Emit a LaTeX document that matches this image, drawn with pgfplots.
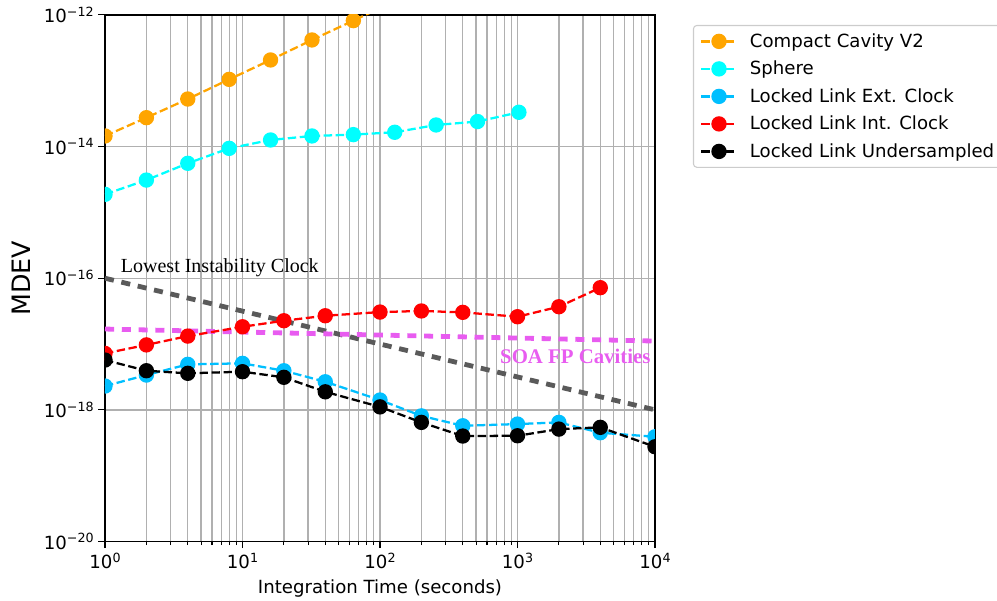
\documentclass[border=0pt]{standalone}
\usepackage{fontspec}
\setmainfont{DejaVu Sans}
\newfontfamily\annfont{Liberation Serif}
\usepackage{pgfplots}
\pgfplotsset{compat=1.18}

\definecolor{cOrange}{RGB}{255,165,0}
\definecolor{cCyan}{RGB}{0,255,255}
\definecolor{cSky}{RGB}{0,191,255}
\definecolor{cRed}{RGB}{255,0,0}
\definecolor{cGridGray}{RGB}{176,176,176}
\definecolor{cClock}{RGB}{90,90,90}
\definecolor{cSOA}{RGB}{232,92,240}

% power-of-ten tick labels set in the text font
\newcommand{\tenpow}[1]{10\raisebox{4.8pt}{\fontsize{9.5}{10}\selectfont #1}}

\pgfplotsset{
  series/.style={line width=1.7pt, dash pattern=on 6.3pt off 2.7pt,
    color=#1, mark=*, mark size=4.9pt,
    mark options={solid, fill=#1, draw=#1}},
  reference/.style={line width=3.6pt, dash pattern=on 6.8pt off 5.8pt, color=#1, no markers},
}

\begin{document}
\begin{tikzpicture}
\begin{axis}[
  at={(0,0)}, anchor=south west,
  scale only axis, width=412.5pt, height=394.9pt,
  xmode=log, ymode=log,
  xmin=1, xmax=1e4, ymin=1e-20, ymax=1e-12,
  clip marker paths=true,
  xtick={1,10,100,1000,10000},
  xticklabels={\tenpow{0},\tenpow{1},\tenpow{2},\tenpow{3},\tenpow{4}},
  minor xtick={2,3,4,5,6,7,8,9,20,30,40,50,60,70,80,90,200,300,400,500,600,700,800,900,2000,3000,4000,5000,6000,7000,8000,9000},
  ytick={1e-20,1e-18,1e-16,1e-14,1e-12},
  yticklabels={\tenpow{−20},\tenpow{−18},\tenpow{−16},\tenpow{−14},\tenpow{−12}},
  yminorticks=false,
  xmajorgrids, xminorgrids, ymajorgrids,
  grid style={color=cGridGray, line width=1pt},
  minor grid style={color=cGridGray, line width=1pt},
  tick pos=left, tick align=outside,
  major tick length=5pt, minor tick length=2.8pt,
  tick style={black, line width=0.8pt},
  axis line style={black, line width=0.9pt},
  ticklabel style={font=\fontsize{13.6}{16}\selectfont},
  xlabel={Integration Time (seconds)},
  xlabel style={font=\fontsize{13.6}{16}\selectfont, at={(axis description cs:0.5,0)}, anchor=center, yshift=-35.6pt},
  ylabel={MDEV},
  ylabel style={font=\fontsize{19}{22}\selectfont, at={(axis description cs:-0.1515,0.5)}, anchor=center},
  legend cell align=left,
  legend image code/.code={
    \draw[mark repeat=2, mark phase=2] plot coordinates {(0pt,0pt) (13.3pt,0pt) (26.6pt,0pt)};
  },
  legend style={at={(1.069,0.981)}, anchor=north west,
    draw={rgb,255:red,204;green,204;blue,204}, line width=0.8pt, rounded corners=2.5pt,
    font=\fontsize{13.6}{16}\selectfont, row sep=4.8pt,
    inner xsep=5pt, inner ysep=4pt,
    /tikz/every odd column/.append style={column sep=7pt}},
]

% reference levels
\addplot[reference=cClock, forget plot] coordinates {(1,1e-16) (10000,1e-18)};
\addplot[reference=cSOA, forget plot] coordinates {(1,1.69e-17) (10000,1.11e-17)};

\addplot[series=cOrange] coordinates {
  (1,1.45e-14) (2,2.75e-14) (4,5.28e-14) (8,1.05e-13) (16,2.07e-13)
  (32,4.17e-13) (64,8.2e-13) (128,1.62e-12)};
\addlegendentry{Compact Cavity V2}

\addplot[series=cCyan] coordinates {
  (1,1.88e-15) (2,3.1e-15) (4,5.57e-15) (8,9.4e-15) (16,1.26e-14)
  (32,1.45e-14) (64,1.52e-14) (128,1.65e-14) (256,2.13e-14) (512,2.4e-14)
  (1024,3.32e-14)};
\addlegendentry{Sphere}

\addplot[series=cSky] coordinates {
  (1,2.3e-18) (2,3.38e-18) (4,4.91e-18) (10,5.09e-18) (20,3.93e-18)
  (40,2.67e-18) (100,1.41e-18) (200,8.1e-19) (400,5.73e-19) (1000,6.08e-19)
  (2000,6.45e-19) (4000,4.49e-19) (10000,3.9e-19)};
\addlegendentry{Locked Link Ext. Clock}

\addplot[series=cRed] coordinates {
  (1,7.2e-18) (2,9.7e-18) (4,1.32e-17) (10,1.83e-17) (20,2.26e-17)
  (40,2.69e-17) (100,3.06e-17) (200,3.18e-17) (400,3.03e-17) (1000,2.6e-17)
  (2000,3.69e-17) (4000,7.18e-17)};
\addlegendentry{Locked Link Int. Clock}

\addplot[series=black] coordinates {
  (1,5.71e-18) (2,3.93e-18) (4,3.59e-18) (10,3.8e-18) (20,3.12e-18)
  (40,1.88e-18) (100,1.11e-18) (200,6.45e-19) (400,4.0e-19) (1000,4.04e-19)
  (2000,5.1e-19) (4000,5.42e-19) (10000,2.75e-19)};
\addlegendentry{Locked Link Undersampled}

\node[anchor=base west, inner sep=0pt, font=\annfont\fontsize{15}{18}\selectfont]
  at (axis cs:1.3,1.21e-16) {Lowest Instability Clock};
\node[anchor=base east, inner sep=0pt, text=cSOA, font=\annfont\bfseries\fontsize{15.6}{18}\selectfont]
  at (axis cs:9310,5.09e-18) {SOA FP Cavities};
\end{axis}
\pgfresetboundingbox
\useasboundingbox (-78.75pt,-44.6pt) rectangle (669pt,406.1pt);
\end{tikzpicture}
\end{document}
